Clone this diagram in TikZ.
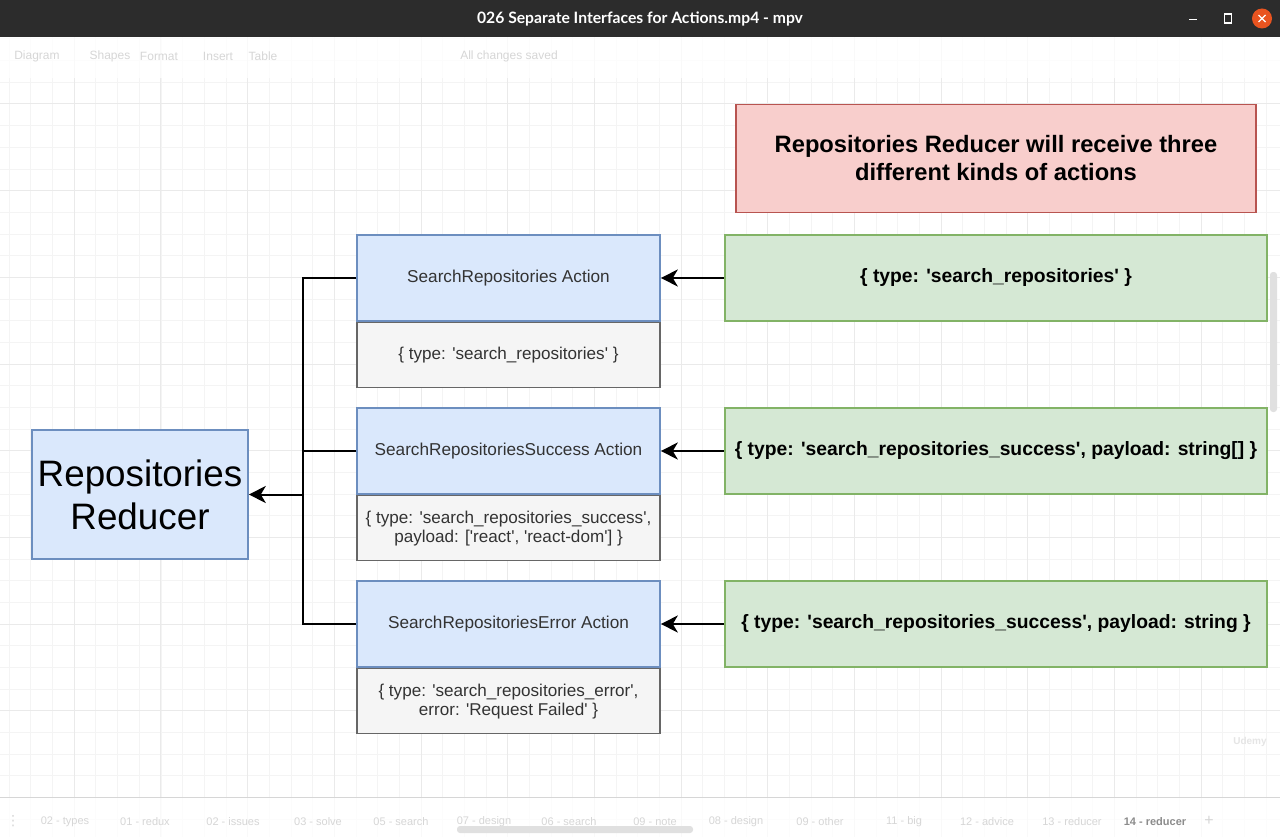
\documentclass[tikz,border=0pt]{standalone}
\usepackage{fontspec}
\newfontfamily\dia{Liberation Sans}
\newfontfamily\titlefont{Lato}
\newfontfamily\symfont{DejaVu Sans}
\usetikzlibrary{arrows.meta,calc}
\definecolor{actfill}{HTML}{DAE8FC}
\definecolor{actline}{HTML}{6C8EBF}
\definecolor{payfill}{HTML}{F5F5F5}
\definecolor{payline}{HTML}{666666}
\definecolor{msgfill}{HTML}{D5E8D4}
\definecolor{msgline}{HTML}{82B366}
\definecolor{notefill}{HTML}{F8CECC}
\definecolor{noteline}{HTML}{B85450}
\definecolor{barbg}{HTML}{2C2C2C}
\definecolor{gridminor}{HTML}{F4F4F4}
\definecolor{gridmajor}{HTML}{EAEAEA}
\definecolor{closeorange}{HTML}{E95420}
\definecolor{faint}{HTML}{D6D6D6}
\definecolor{textgrey}{HTML}{333333}

\tikzset{
  action/.style={draw=actline, fill=actfill, line width=1.6pt, inner sep=0pt,
    minimum width=303pt, minimum height=86pt, text=textgrey,
    font=\dia\fontsize{17.2}{19}\selectfont},
  payload/.style={draw=payline, fill=payfill, line width=1.6pt, inner sep=0pt,
    minimum width=303pt, minimum height=65pt, text=textgrey, align=center,
    font=\dia\fontsize{17.1}{19}\selectfont},
  msg/.style={draw=msgline, fill=msgfill, line width=1.6pt, inner sep=0pt,
    minimum width=542pt, minimum height=86pt,
    font=\dia\bfseries\fontsize{19.3}{22}\selectfont},
  goal/.style={draw=noteline, fill=notefill, line width=1.6pt, inner sep=0pt,
    minimum width=520pt, minimum height=108pt, align=center,
    font=\dia\bfseries\fontsize{23.7}{28}\selectfont},
  reducer/.style={draw=actline, fill=actfill, line width=1.6pt, inner sep=0pt,
    minimum width=216pt, minimum height=129pt, align=center,
    font=\dia\fontsize{36.8}{43}\selectfont},
  wire/.style={line width=2pt, black},
  link/.style={wire, -{Stealth[length=17pt,width=17pt,inset=5pt]}},
  tab/.style={text=faint, font=\dia\fontsize{11}{13}\selectfont}
}

\begin{document}
\begin{tikzpicture}[x=1pt,y=-1pt]
\useasboundingbox (0,0) rectangle (1280,837);
\fill[white] (0,0) rectangle (1280,837);

\foreach \i in {0,...,59}{
  \draw[gridminor, line width=1pt] ({9.33+21.667*\i},37) -- ({9.33+21.667*\i},837);}
\foreach \i in {0,...,37}{
  \draw[gridminor, line width=1pt] (0,{39+21.667*\i}) -- (1280,{39+21.667*\i});}
\foreach \i in {0,...,14}{
  \draw[gridmajor, line width=1pt] ({74.33+86.667*\i},37) -- ({74.33+86.667*\i},837);}
\foreach \i in {0,...,8}{
  \draw[gridmajor, line width=1pt] (0,{104+86.667*\i}) -- (1280,{104+86.667*\i});}

% toolbar and tabs, faded
\fill[white, opacity=.75] (0,37) rectangle (1280,78);
\fill[white, opacity=.75] (0,797) rectangle (1280,837);
\draw[faint] (0,797) -- (1280,797);
\foreach \t/\x in {Diagram/37,Shapes/110,Format/159,Insert/218,Table/263,All changes saved/509}{
  \node[tab, font=\dia\fontsize{12}{14}\selectfont] at (\x,56) {\t};}
\foreach \t/\x in {02 - types/65,01 - redux/145,02 - issues/233,03 - solve/318,05 - search/401,
  07 - design/484,06 - search/569,09 - note/655,08 - design/736,09 - other/820,11 - big/904,
  12 - advice/987,13 - reducer/1072}{
  \node[tab] at (\x,822) {\t};}
\node[tab, text=black!45, font=\dia\bfseries\fontsize{11}{13}\selectfont] at (1155,822) {14 - reducer};
\node[tab, font=\dia\fontsize{16}{16}\selectfont] at (1209,821) {+};
\node[tab, font=\symfont\fontsize{14}{14}\selectfont] at (13,821) {⋮};
\fill[black!12, rounded corners=3pt] (457,826) rectangle (693,833);
\fill[black!12, rounded corners=3pt] (1270,272) rectangle (1277,412);
\node[text=black!10, font=\dia\bfseries\fontsize{10}{12}\selectfont] at (1250,742) {Udemy};

% window title bar
\fill[barbg] (0,0) rectangle (1280,37);
\node[text=white, font=\titlefont\bfseries\fontsize{15.7}{18}\selectfont] (title) at (640,18.5)
  {026 Separate Interfaces for Actions.mp4 - mpv};
\draw[white, line width=1.2pt] (1189,19.5) -- (1197,19.5);
\draw[white, line width=1.2pt] (1224.5,14) rectangle (1231.5,23);
\fill[closeorange] (1262,18.5) circle (10);
\draw[white, line width=1.1pt] (1258.5,15) -- (1265.5,22) (1265.5,15) -- (1258.5,22);

% diagram
\node[goal] (goal) at (996,158.5) {Repositories Reducer will receive three\\different kinds of actions};

\node[msg] (m1) at (996,278) {\{ type: 'search\_repositories' \}};
\node[msg] (m2) at (996,451) {\{ type: 'search\_repositories\_success', payload: string[] \}};
\node[msg] (m3) at (996,624) {\{ type: 'search\_repositories\_success', payload: string \}};

\node[action] (a1) at (508.5,278) {SearchRepositories Action};
\node[action] (a2) at (508.5,451) {SearchRepositoriesSuccess Action};
\node[action] (a3) at (508.5,624) {SearchRepositoriesError Action};

\node[payload, anchor=north] (p1) at (a1.south) {\{ type: 'search\_repositories' \}};
\node[payload, anchor=north] (p2) at (a2.south) {\{ type: 'search\_repositories\_success',\\payload: ['react', 'react-dom'] \}};
\node[payload, anchor=north] (p3) at (a3.south) {\{ type: 'search\_repositories\_error',\\error: 'Request Failed' \}};

\node[reducer] (red) at (140,494.5) {Repositories\\Reducer};

\coordinate (bus) at (303,494.5);
\foreach \i in {1,2,3}{
  \draw[link] (m\i.west) -- (a\i.east);
  \draw[wire] (a\i.west) -| (bus);}
\draw[link] (bus) -- (red.east);
\end{tikzpicture}
\end{document}
